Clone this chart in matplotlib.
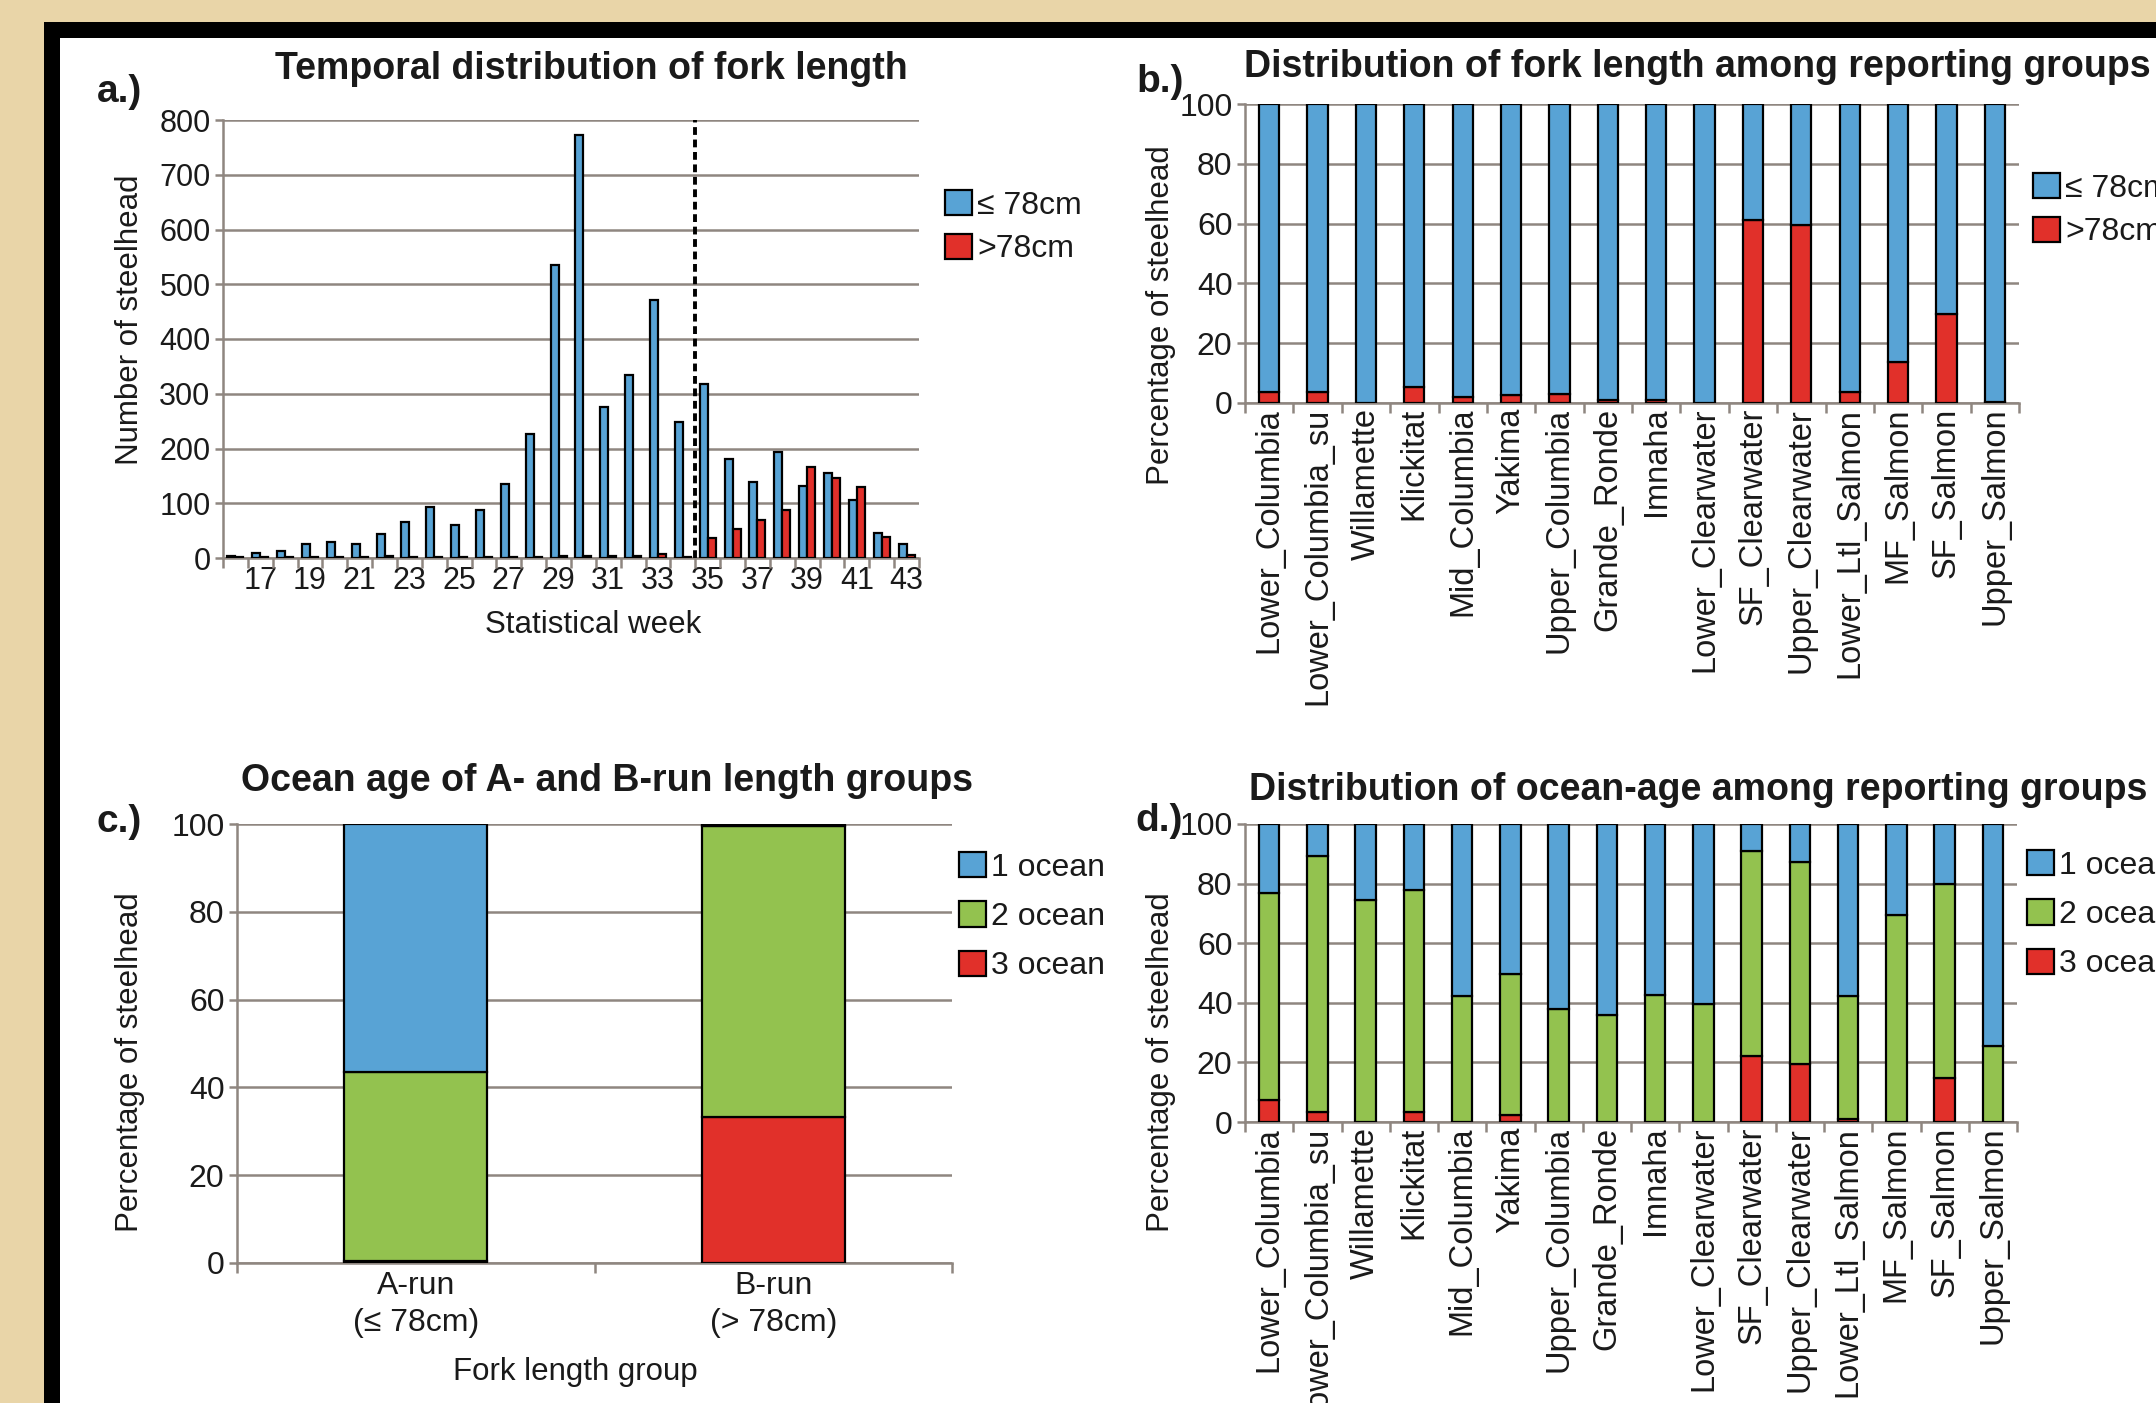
"""
Steelhead fork length / ocean age summary - four panel figure.
"""

import matplotlib
matplotlib.use("Agg")
import matplotlib.pyplot as plt
from matplotlib.patches import Patch, Rectangle

plt.rcParams['font.family'] = ['Liberation Sans', 'DejaVu Sans']
plt.rcParams['text.color'] = '#1a1a1a'
plt.rcParams['xtick.color'] = '#1a1a1a'
plt.rcParams['ytick.color'] = '#1a1a1a'

# ---- data ---------------------------------------------------------------
# a.) counts per statistical week
weeks = list(range(16, 44))
week_labels = [str(w) for w in range(17, 44, 2)]
n_small = [3, 10, 13, 25, 29, 25, 44, 65, 94, 60, 88, 135, 226, 536, 773,
           276, 335, 472, 248, 318, 180, 138, 194, 131, 155, 106, 45, 26]
n_large = [2, 1, 1, 1, 2, 2, 3, 2, 2, 2, 2, 2, 2, 4, 4,
           3, 4, 7, 1, 37, 53, 70, 87, 166, 147, 130, 38, 5]
split_week = 34.5

# b.) / d.) reporting groups
groups = ['Lower_Columbia', 'Lower_Columbia_su', 'Willamette', 'Klickitat',
          'Mid_Columbia', 'Yakima', 'Upper_Columbia', 'Grande_Ronde', 'Imnaha',
          'Lower_Clearwater', 'SF_Clearwater', 'Upper_Clearwater',
          'Lower_Ltl_Salmon', 'MF_Salmon', 'SF_Salmon', 'Upper_Salmon']
pct_large = [3.6, 3.6, 0, 5.4, 2.1, 2.7, 3.1, 1.0, 1.0, 0, 61.1, 59.6,
             3.6, 13.6, 29.9, 0.5]
pct_small = [100 - v for v in pct_large]

ocean1 = [23.3, 10.7, 25.6, 22.3, 57.7, 50.2, 62.1, 64.1, 57.3, 60.5, 8.9,
          12.6, 57.7, 30.4, 20.3, 74.4]
ocean2 = [69.3, 86.0, 74.4, 74.4, 42.3, 47.5, 37.9, 35.9, 42.7, 39.5, 69.1,
          68.0, 41.3, 69.6, 64.8, 25.6]
ocean3 = [7.4, 3.3, 0, 3.3, 0, 2.3, 0, 0, 0, 0, 22.0, 19.4, 1.0, 0, 14.9, 0]

# c.) run groups
run_groups = ['A-run\n(\u2264 78cm)', 'B-run\n(> 78cm)']
run_ocean1 = [56.5, 0.5]
run_ocean2 = [43.0, 66.2]
run_ocean3 = [0.5, 33.3]

# ---- style --------------------------------------------------------------
BLUE = '#58a3d5'
RED = '#e1302a'
GREEN = '#93c24f'
GRID = '#8f8680'
EDGE_LW = 1.6

W, H = 2156, 1403
fig = plt.figure(figsize=(W / 100, H / 100), dpi=100, facecolor='#e9d5a8')

# frame: black border and white page
fig.patches.append(Rectangle((44 / W, 0), 1, 1 - 22 / H, transform=fig.transFigure,
                             facecolor='black', edgecolor='none', zorder=-2))
fig.patches.append(Rectangle((60 / W, 0), 1, 1 - 38 / H, transform=fig.transFigure,
                             facecolor='white', edgecolor='none', zorder=-1))


def px_axes(left, top, right, bottom):
    return fig.add_axes([left / W, 1 - bottom / H, (right - left) / W, (bottom - top) / H])


def ftext(x, y, s, **kw):
    fig.text(x / W, 1 - y / H, s, **kw)


def style_axes(ax, ymax, ystep, ysize):
    ax.set_facecolor('none')
    ax.set_ylim(0, ymax)
    ax.set_yticks(range(0, ymax + 1, ystep))
    ax.grid(axis='y', color=GRID, lw=1.8)
    ax.set_axisbelow(True)
    for s in ['top', 'right']:
        ax.spines[s].set_visible(False)
    for s in ['left', 'bottom']:
        ax.spines[s].set_color(GRID)
        ax.spines[s].set_linewidth(1.8)
    ax.tick_params(axis='y', length=6, width=1.8, color=GRID, labelsize=ysize, pad=3)
    ax.tick_params(axis='x', which='major', length=0)
    ax.tick_params(axis='x', which='minor', length=7, width=1.8, color=GRID)


def add_legend(ax, labels, colors, x, y, spacing):
    handles = [Patch(facecolor=c, edgecolor='black', lw=EDGE_LW) for c in colors]
    ax.legend(handles, labels, loc='upper left', bbox_to_anchor=(x / W, 1 - y / H),
              bbox_transform=fig.transFigure, frameon=False, borderpad=0,
              borderaxespad=0, handlelength=0.85, handleheight=0.85,
              handletextpad=0.15, labelspacing=spacing, fontsize=23)


# ---- a.) temporal distribution ------------------------------------------
ax_a = px_axes(223, 120, 919, 558)
style_axes(ax_a, 800, 100, 22)
bw = 0.32
ax_a.bar([w - bw / 2 for w in weeks], n_small, width=bw, color=BLUE,
         edgecolor='black', lw=EDGE_LW, zorder=3)
ax_a.bar([w + bw / 2 for w in weeks], n_large, width=bw, color=RED,
         edgecolor='black', lw=EDGE_LW, zorder=3)
ax_a.axvline(split_week, color='black', lw=2.8, ls=(0, (2, 1.2)), zorder=4)
ax_a.set_xlim(weeks[0] - 0.5, weeks[-1] + 0.5)
ax_a.set_xticks(range(17, 44, 2))
ax_a.set_xticklabels(week_labels, fontsize=22)
ax_a.set_xticks([w - 0.5 for w in weeks] + [weeks[-1] + 0.5], minor=True)
ax_a.tick_params(axis='x', pad=6)
add_legend(ax_a, ['\u2264 78cm', '>78cm'], [BLUE, RED], 945, 190, 0.4)

ftext(591, 69, 'Temporal distribution of fork length', fontsize=27,
      fontweight='bold', ha='center', va='center')
ftext(119, 92, 'a.)', fontsize=28, fontweight='bold', ha='center', va='center')
ftext(130, 320, 'Number of steelhead', fontsize=22.5, rotation=90,
      ha='center', va='center')
ftext(593, 625, 'Statistical week', fontsize=22.5, ha='center', va='center')

# ---- b.) fork length by reporting group ---------------------------------
xs = list(range(len(groups)))
gw = 0.42
ax_b = px_axes(1245, 104, 2019, 403)
style_axes(ax_b, 100, 20, 23)
ax_b.bar(xs, pct_large, width=gw, color=RED, edgecolor='black', lw=EDGE_LW, zorder=3)
ax_b.bar(xs, pct_small, bottom=pct_large, width=gw, color=BLUE,
         edgecolor='black', lw=EDGE_LW, zorder=3)
ax_b.set_xlim(-0.5, len(groups) - 0.5)
ax_b.set_xticks(xs)
ax_b.set_xticklabels(groups, rotation=90, fontsize=23.5)
ax_b.set_xticks([x - 0.5 for x in xs] + [len(groups) - 0.5], minor=True)
add_legend(ax_b, ['\u2264 78cm', '>78cm'], [BLUE, RED], 2033, 173, 0.4)

ftext(1697, 67, 'Distribution of fork length among reporting groups', fontsize=27,
      fontweight='bold', ha='center', va='center')
ftext(1160, 82, 'b.)', fontsize=28, fontweight='bold', ha='center', va='center')
ftext(1161, 315, 'Percentage of steelhead', fontsize=22.5, rotation=90,
      ha='center', va='center')

# ---- c.) ocean age of A/B run -------------------------------------------
ax_c = px_axes(237, 824, 952, 1263)
style_axes(ax_c, 100, 20, 23)
rx = list(range(len(run_groups)))
c_bottom2 = run_ocean3
c_bottom1 = [a + b for a, b in zip(run_ocean3, run_ocean2)]
ax_c.bar(rx, run_ocean3, width=0.4, color=RED, edgecolor='black', lw=EDGE_LW, zorder=3)
ax_c.bar(rx, run_ocean2, bottom=c_bottom2, width=0.4, color=GREEN,
         edgecolor='black', lw=EDGE_LW, zorder=3)
ax_c.bar(rx, run_ocean1, bottom=c_bottom1, width=0.4, color=BLUE,
         edgecolor='black', lw=EDGE_LW, zorder=3)
ax_c.set_xlim(-0.5, len(run_groups) - 0.5)
ax_c.set_xticks(rx)
ax_c.set_xticklabels(run_groups, fontsize=23, linespacing=1.3)
ax_c.set_xticks([-0.5, 0.5, 1.5], minor=True)
ax_c.tick_params(axis='x', pad=6)
add_legend(ax_c, ['1 ocean', '2 ocean', '3 ocean'], [BLUE, GREEN, RED], 959, 852, 0.58)

ftext(607, 781, 'Ocean age of A- and B-run length groups', fontsize=27,
      fontweight='bold', ha='center', va='center')
ftext(119, 822, 'c.)', fontsize=28, fontweight='bold', ha='center', va='center')
ftext(130, 1062, 'Percentage of steelhead', fontsize=22.5, rotation=90,
      ha='center', va='center')
ftext(575, 1372, 'Fork length group', fontsize=22.5, ha='center', va='center')

# ---- d.) ocean age by reporting group -----------------------------------
ax_d = px_axes(1245, 824, 2017, 1122)
style_axes(ax_d, 100, 20, 23)
d_bottom2 = ocean3
d_bottom1 = [a + b for a, b in zip(ocean3, ocean2)]
ax_d.bar(xs, ocean3, width=gw, color=RED, edgecolor='black', lw=EDGE_LW, zorder=3)
ax_d.bar(xs, ocean2, bottom=d_bottom2, width=gw, color=GREEN,
         edgecolor='black', lw=EDGE_LW, zorder=3)
ax_d.bar(xs, ocean1, bottom=d_bottom1, width=gw, color=BLUE,
         edgecolor='black', lw=EDGE_LW, zorder=3)
ax_d.set_xlim(-0.5, len(groups) - 0.5)
ax_d.set_xticks(xs)
ax_d.set_xticklabels(groups, rotation=90, fontsize=23.5)
ax_d.set_xticks([x - 0.5 for x in xs] + [len(groups) - 0.5], minor=True)
add_legend(ax_d, ['1 ocean', '2 ocean', '3 ocean'], [BLUE, GREEN, RED], 2027, 850, 0.58)

ftext(1698, 790, 'Distribution of ocean-age among reporting groups', fontsize=27,
      fontweight='bold', ha='center', va='center')
ftext(1159, 821, 'd.)', fontsize=28, fontweight='bold', ha='center', va='center')
ftext(1161, 1062, 'Percentage of steelhead', fontsize=22.5, rotation=90,
      ha='center', va='center')

fig.savefig('out.png', dpi=100, facecolor=fig.get_facecolor())
